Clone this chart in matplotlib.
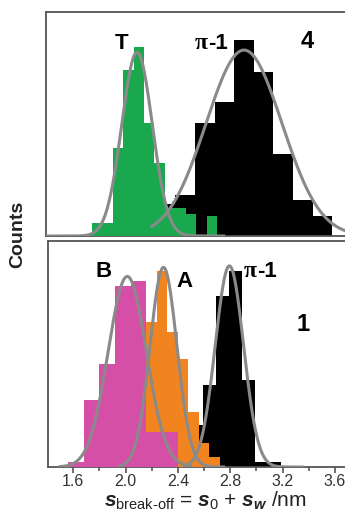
import numpy as np
import matplotlib
matplotlib.use("Agg")
import matplotlib.pyplot as plt
from matplotlib.ticker import MultipleLocator, NullLocator

plt.rcParams['font.family'] = ['Liberation Sans', 'DejaVu Sans']
plt.rcParams['mathtext.fontset'] = 'custom'
plt.rcParams['mathtext.rm'] = 'Liberation Sans'
plt.rcParams['mathtext.it'] = 'Liberation Sans:italic:bold'

# --- top panel (molecule 4) ---
t_edges = [1.74, 1.82, 1.90, 1.98, 2.06, 2.14, 2.22, 2.30, 2.38, 2.46, 2.54, 2.62, 2.70]
t_counts = [1.8, 1.8, 11.8, 22.2, 25.3, 15.1, 9.8, 3.8, 3.8, 3.0, 0, 2.7]
pi4_edges = [2.23, 2.38, 2.53, 2.68, 2.83, 2.98, 3.13, 3.28, 3.43, 3.58]
pi4_counts = [4.3, 5.5, 15.1, 18.0, 26.2, 21.9, 11.0, 4.8, 2.7]

# --- bottom panel (molecule 1) ---
b_edges = [1.56, 1.68, 1.80, 1.92, 2.04, 2.16, 2.28, 2.40]
b_counts = [0.7, 8.9, 13.7, 24.0, 24.7, 4.7, 4.7]
a_edges = [2.16, 2.24, 2.32, 2.40, 2.48, 2.56, 2.64, 2.72]
a_counts = [19.2, 26.0, 17.9, 14.4, 7.3, 3.2, 1.3]
pi1_edges = [2.49, 2.59, 2.69, 2.79, 2.89, 2.99, 3.09, 3.19]
pi1_counts = [5.6, 10.9, 22.7, 26.0, 11.6, 0.7, 0.7]

# gaussian fits: (centre, sigma, height)
fit_t = (2.087, 0.117, 24.6)
fit_pi4 = (2.905, 0.29, 24.9)
fit_b = (2.013, 0.146, 25.3)
fit_a = (2.29, 0.103, 26.5)
fit_pi1 = (2.794, 0.108, 26.7)

GREEN = '#1aa84e'
PINK = '#d64fa6'
ORANGE = '#f2841f'
CURVE = '#8a8a8a'
FRAME = '#555555'


def hist(ax, edges, counts, color, z):
    edges = np.asarray(edges)
    ax.bar(edges[:-1], counts, width=np.diff(edges), align='edge',
           color=color, linewidth=0, zorder=z)


def fit(ax, params, lo, hi):
    mu, sd, h = params
    x = np.linspace(lo, hi, 400)
    ax.plot(x, h * np.exp(-0.5 * ((x - mu) / sd) ** 2), color=CURVE, lw=2.2, zorder=5)


def label_pi(ax, x, y):
    ax.text(x, y, 'π', family='Liberation Serif', fontweight='bold', fontsize=17,
            ha='right', va='center')
    ax.text(x, y, '-1', fontweight='bold', fontsize=16, ha='left', va='center')


fig = plt.figure(figsize=(3.45, 5.12), dpi=100)
ax1 = fig.add_axes([46 / 345, 1 - 236 / 512, 1.0, 224 / 512])
ax2 = fig.add_axes([48 / 345, 1 - 467 / 512, 1.0, 226 / 512])

for ax, left in ((ax1, 1.391), (ax2, 1.407)):
    ax.set_xlim(left, left + 2.286 * 345 / 299)
    ax.set_ylim(0, 30)
    ax.yaxis.set_major_locator(NullLocator())
    for s in ax.spines.values():
        s.set_color(FRAME)
        s.set_linewidth(1.3)
    ax.spines['right'].set_visible(False)

# top panel
hist(ax1, pi4_edges, pi4_counts, 'black', 2)
hist(ax1, t_edges, t_counts, GREEN, 3)
fit(ax1, fit_t, 1.40, 2.75)
fit(ax1, fit_pi4, 2.20, 3.70)
ax1.set_xticks([])
ax1.text(1.972, 25.8, 'T', fontweight='bold', fontsize=16, ha='center', va='center')
label_pi(ax1, 2.630, 25.8)
ax1.text(3.386, 26.0, '4', fontweight='bold', fontsize=17, ha='center', va='center')

# bottom panel
hist(ax2, pi1_edges, pi1_counts, 'black', 2)
hist(ax2, a_edges, a_counts, ORANGE, 3)
hist(ax2, b_edges, b_counts, PINK, 4)
fit(ax2, fit_b, 1.50, 2.50)
fit(ax2, fit_a, 1.95, 2.75)
fit(ax2, fit_pi1, 2.45, 3.35)
ax2.text(1.835, 25.9, 'B', fontweight='bold', fontsize=16, ha='center', va='center')
ax2.text(2.454, 24.6, 'A', fontweight='bold', fontsize=16, ha='center', va='center')
label_pi(ax2, 3.004, 26.0)
ax2.text(3.356, 18.9, '1', fontweight='bold', fontsize=17, ha='center', va='center')

ax2.xaxis.set_major_locator(MultipleLocator(0.4))
ax2.xaxis.set_minor_locator(MultipleLocator(0.2))
ax2.tick_params(axis='x', which='both', direction='out', color=FRAME, width=1.2,
                labelsize=11.5, labelcolor='#333333', pad=1)
ax2.tick_params(axis='x', which='major', length=4)
ax2.tick_params(axis='x', which='minor', length=3)
ax2.set_xticklabels([f'{v:.1f}' for v in ax2.get_xticks()])

ax2.set_xlabel(r'$s_{\rm break\text{-}off}$ = $s_0$ + $s_w$ /nm', fontsize=15,
               labelpad=0, color='#222222')
ax2.xaxis.set_label_coords((205 - 48) / 345, -0.1)
fig.text(18 / 345, 1 - 234 / 512, 'Counts', rotation=90, fontsize=14,
         fontweight='bold', ha='center', va='center', color='#222222')

fig.savefig('out.png', dpi=100)
